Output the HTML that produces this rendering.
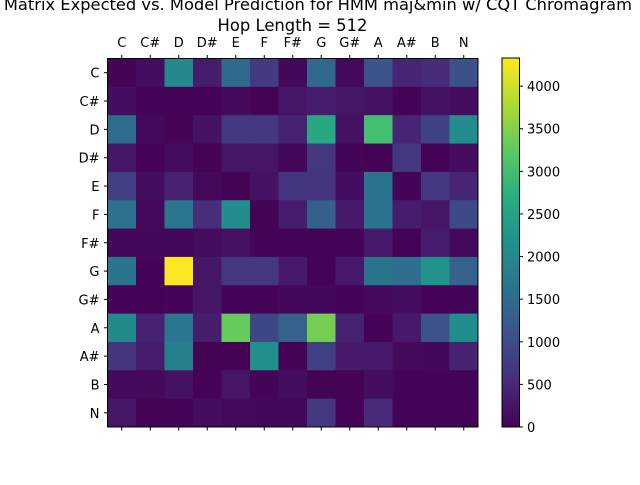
<!DOCTYPE html>
<html><head><meta charset="utf-8"><style>
body{margin:0;background:#fff;width:640px;height:480px;overflow:hidden}
svg text{font-family:"DejaVu Sans","Liberation Sans",sans-serif;fill:#000}
</style></head><body>
<svg id="chart" width="640" height="480" viewBox="0 0 640 480" xmlns="http://www.w3.org/2000/svg">
<text x="632" y="10" font-size="16.3" text-anchor="end">Confusion Matrix Expected vs. Model Prediction for HMM maj&amp;min w/ CQT Chromagram</text>
<text x="292.5" y="31" font-size="16.4" text-anchor="middle">Hop Length = 512</text>
<g id="cells"></g>
<g id="ticks"></g>
<rect x="107.5" y="58.5" width="370.5" height="368.5" fill="none" stroke="#000" stroke-width="1"/>
<defs><linearGradient id="cbg" x1="0" y1="1" x2="0" y2="0"><stop offset="0" stop-color="#440154"/><stop offset="0.125" stop-color="#472d7b"/><stop offset="0.25" stop-color="#3b528b"/><stop offset="0.375" stop-color="#2c728e"/><stop offset="0.5" stop-color="#21918c"/><stop offset="0.625" stop-color="#28ae80"/><stop offset="0.75" stop-color="#5ec962"/><stop offset="0.875" stop-color="#addc30"/><stop offset="1" stop-color="#fde725"/></linearGradient></defs>
<rect x="502" y="58" width="17.5" height="369" fill="url(#cbg)" stroke="#000" stroke-width="1"/>
<g id="cbticks"></g>
</svg>
<script>
const labels = ["C","C#","D","D#","E","F","F#","G","G#","A","A#","B","N"];
const row0 = [20,150,2000,350,1450,750,80,1450,100,1100,450,500,1050];
const row1 = [150,30,30,30,100,20,250,350,250,200,30,200,150];
const row2 = [1500,100,20,200,700,700,400,2600,200,3000,450,850,2100];
const row3 = [250,30,150,20,250,250,80,700,50,20,700,30,150];
const row4 = [800,150,400,100,20,200,650,650,150,1650,50,700,450];
const row5 = [1600,100,1700,550,2100,20,350,1300,300,1650,350,250,950];
const row6 = [80,80,80,120,200,50,50,50,50,300,30,350,100];
const row7 = [1650,30,4330,250,700,700,300,30,300,1650,1550,2200,1350];
const row8 = [30,30,50,250,30,30,80,80,50,100,150,30,50];
const row9 = [2050,400,1700,350,3300,900,1350,3400,400,30,300,1100,2100];
const row10 = [650,350,1850,20,20,2150,20,800,300,300,100,80,400];
const row11 = [100,100,200,30,250,50,150,20,20,150,50,50,50];
const row12 = [250,20,30,150,100,80,80,700,30,500,30,30,30];
const matrix = [row0,row1,row2,row3,row4,row5,row6,row7,row8,row9,row10,row11,row12];
const cbTicks = [0,500,1000,1500,2000,2500,3000,3500,4000];
const vmin = 0, vmax = 4330;

const NS="http://www.w3.org/2000/svg";
const X0=107.5,X1=478,Y0=58.5,Y1=427;
const n=labels.length, cw=(X1-X0)/n, ch=(Y1-Y0)/n;
const xs=j=>X0+j*cw, ys=i=>Y0+i*ch;
const stops=["#440154","#472d7b","#3b528b","#2c728e","#21918c","#28ae80","#5ec962","#addc30","#fde725"].map(h=>[1,3,5].map(k=>parseInt(h.substr(k,2),16)));
function cmap(v){let t=Math.max(0,Math.min(1,(v-vmin)/(vmax-vmin)))*(stops.length-1);let k=Math.min(Math.floor(t),stops.length-2),f=t-k;const c=stops[k].map((a,m)=>Math.round(a+(stops[k+1][m]-a)*f));return `rgb(${c})`;}
function mk(tag,attrs,parent){const e=document.createElementNS(NS,tag);for(const k in attrs)e.setAttribute(k,attrs[k]);parent.appendChild(e);return e;}
const cells=document.getElementById('cells');
matrix.forEach((row,i)=>row.forEach((v,j)=>{
  const r=mk('rect',{x:xs(j),y:ys(i),width:cw+0.5,height:ch+0.5,fill:cmap(v)},cells);
  
  
}));
const tk=document.getElementById('ticks');
labels.forEach((l,j)=>{
  const cx=xs(j)+cw/2;
  mk('line',{x1:cx,y1:Y0,x2:cx,y2:Y0-3.5,stroke:'#000'},tk);
  mk('line',{x1:cx,y1:Y1,x2:cx,y2:Y1+3.5,stroke:'#000'},tk);
  const t=mk('text',{x:cx,y:Y0-11.5,'font-size':13,'text-anchor':'middle'},tk);t.textContent=l;
  
  
  const cy=ys(j)+ch/2;
  mk('line',{x1:X0,y1:cy,x2:X0-3.5,y2:cy,stroke:'#000'},tk);
  const u=mk('text',{x:X0-8,y:cy+5,'font-size':13,'text-anchor':'end'},tk);u.textContent=l;
  
  
});
const cb=document.getElementById('cbticks');
cbTicks.forEach(v=>{
  const y=427-(v-vmin)/(vmax-vmin)*369;
  mk('line',{x1:519.5,y1:y,x2:523,y2:y,stroke:'#000'},cb);
  const t=mk('text',{x:527,y:y+5,'font-size':13},cb);t.textContent=v;
  
  
});
</script>
</body></html>
